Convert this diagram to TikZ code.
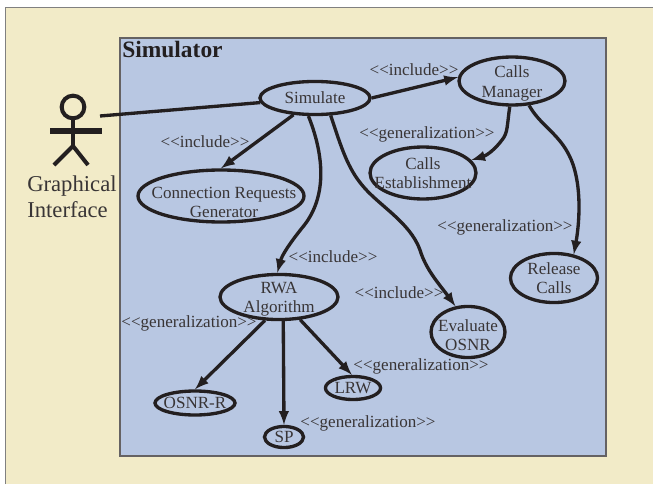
\documentclass[tikz,border=0pt]{standalone}
\usepackage{fontspec}
\setmainfont{Liberation Serif}
\usetikzlibrary{shapes.geometric}
\definecolor{paper}{HTML}{F2EBC8}
\definecolor{panel}{HTML}{B8C7E2}
\definecolor{ink}{HTML}{231F20}
\tikzset{
    usecase/.style={ellipse,draw=ink,line width=2.5pt,inner sep=-15pt,align=center,text=ink!90,font=\fontsize{12.8}{14.3}\selectfont},
    tag/.style={text=ink!90,inner sep=0pt,font=\fontsize{12.8}{14.3}\selectfont},
    link/.style={draw=ink,line width=2.5pt,-latex},
    limb/.style={draw=ink,line width=3pt},
}
\begin{document}
\begin{tikzpicture}[x=0.75pt,y=-0.75pt]
    \useasboundingbox(0,0)rectangle(653,485);
    \fill[paper](5,7)rectangle(653,484);
    \draw[gray,line width=0.6pt](5,484)--(5,7)--(653,7);
    \draw[ink!70,line width=0.9pt,fill=panel](120,38)rectangle(606,456);
    \node[anchor=north west,inner sep=0pt,text=ink,font=\fontsize{17.6}{20}\selectfont\bfseries](simulator)at(122,41){Simulator};

    % actor
    \node[circle,draw=ink,line width=3pt,minimum size=17pt,inner sep=0pt](head)at(73,107){};
    \coordinate(hip)at(73,146);
    \coordinate(armL)at(50,131);
    \coordinate(armR)at(102,131);
    \coordinate(footL)at(54,165);
    \coordinate(footR)at(88,165);
    \coordinate(hand)at(100,116);
    \draw[limb](head.south)--(hip);
    \draw[limb,line width=4pt](armL)--(armR);
    \draw[limb](footL)--(hip)--(footR);
    \node[anchor=north west,inner sep=0pt,align=left,text=ink!90,font=\fontsize{17}{18.8}\selectfont](actor)at(27,176){Graphical\\Interface};

    % use cases
    \node[usecase,minimum width=82.5pt,minimum height=24.8pt](simulate)at(315,98){Simulate};
    \node[usecase,minimum width=79.5pt,minimum height=36pt](manager)at(512,81){\rule{0pt}{12.5pt}Calls\\Manager};
    \node[usecase,minimum width=79.5pt,minimum height=39pt](establish)at(423,173){Calls\\Establishment};
    \node[usecase,minimum width=124.5pt,minimum height=39pt](requests)at(221,196){\rule{0pt}{18pt}\hspace*{4.5pt}Connection Requests\\\hspace*{4.5pt}Generator};
    \node[usecase,minimum width=88.5pt,minimum height=33.8pt](rwa)at(279,297){\rule{0pt}{11.7pt}RWA\\Algorithm};
    \node[usecase,minimum width=60pt,minimum height=18pt](osnrr)at(195,403){OSNR-R};
    \node[usecase,minimum width=29.3pt,minimum height=15.8pt](sp)at(284,437){SP};
    \node[usecase,minimum width=41.3pt,minimum height=17.3pt](lrw)at(353,388){LRW};
    \node[usecase,minimum width=55.5pt,minimum height=38.3pt](evaluate)at(468,332){\rule{0pt}{13pt}Evaluate\\OSNR};
    \node[usecase,minimum width=65.3pt,minimum height=36.8pt](release)at(554,278){Release\\Calls};

    % labels
    \node[tag](tagA)at(205,142){<{}<include>{}>};
    \node[tag](tagB)at(414,70){<{}<include>{}>};
    \node[tag](tagC)at(333,257){<{}<include>{}>};
    \node[tag](tagD)at(399,293){<{}<include>{}>};
    \node[tag](tagE)at(427,134){<{}<generalization>{}>};
    \node[tag](tagF)at(505,227){<{}<generalization>{}>};
    \node[tag](tagG)at(189,323){<{}<generalization>{}>};
    \node[tag](tagH)at(421,366){<{}<generalization>{}>};
    \node[tag](tagI)at(368,423){<{}<generalization>{}>};

    % connectors
    \draw[draw=ink,line width=2.5pt](hand)--(simulate);
    \draw[link](simulate.218)--(requests.90);
    \draw[link](simulate.0)--(manager.176);
    \draw[link](simulate.250).. controls (322,150) and (330,195) .. (302,228) .. controls (290,243) and (282,255) .. (rwa.94);
    \draw[link](simulate.-48).. controls (342,150) and (348,168) .. (362,185) .. controls (378,205) and (410,222) .. (420,250) .. controls (426,270) and (440,285) .. (evaluate.116);
    \draw[link](manager.265).. controls (507,125) and (508,133) .. (502,140) .. controls (496,148) and (488,155) .. (establish.15);
    \draw[link](manager.-55).. controls (540,125) and (558,133) .. (569,155) .. controls (582,180) and (580,220) .. (release.50);
    \draw[link](rwa.-121)--(osnrr.90);
    \draw[link](rwa.-80)--(sp.90);
    \draw[link](rwa.-47)--(lrw.95);
\end{tikzpicture}
\end{document}
